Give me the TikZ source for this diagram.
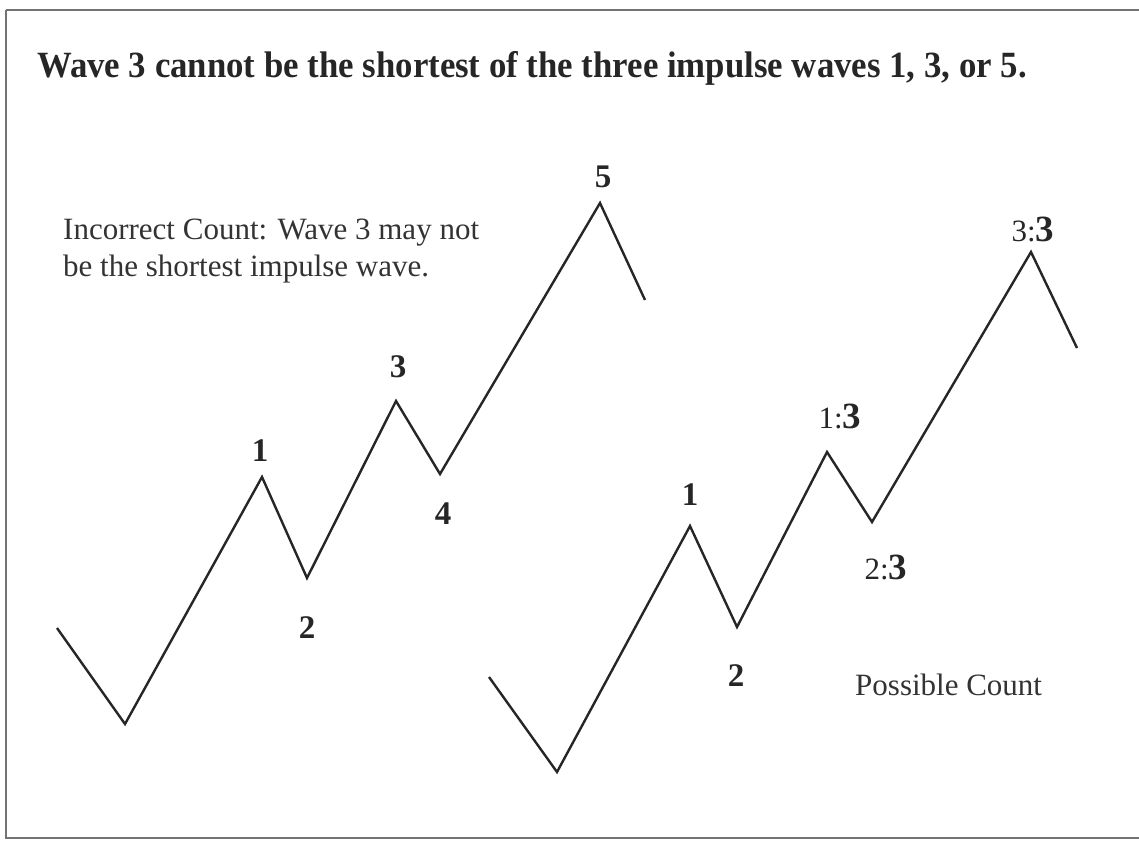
\documentclass[tikz,border=0pt]{standalone}
\usepackage{fontspec}
\setmainfont{Liberation Serif}
\newcommand{\smallpart}{\fontsize{31}{34}\selectfont\mdseries}
\newcommand{\bigpart}{\fontsize{37}{40}\selectfont\bfseries}
\begin{document}
\begin{tikzpicture}[x=1pt,y=-1pt,
  wave/.style={draw=black!85,line width=2.4pt,line join=miter},
  frame/.style={draw=black!55,line width=2pt},
  lbl/.style={font=\fontsize{33}{36}\selectfont\bfseries,text=black!85,inner sep=0pt},
  clbl/.style={text=black!85,inner sep=0pt,anchor=base},
  txt/.style={font=\fontsize{31}{37}\selectfont,text=black!80,inner sep=0pt,anchor=base west}]
\useasboundingbox (0,0) rectangle (1139,840);
\draw[frame] (6,10) -- (1139,10);
\draw[frame] (6,10) -- (6,838) -- (1139,838);
\node[font=\fontsize{37}{40}\selectfont\bfseries,text=black!85,anchor=base west,inner sep=0pt] (title) at (37,78) {\scalebox{0.94}[1]{Wave 3 cannot be the shortest of the three impulse waves 1, 3, or 5.}};
\node[txt] (inc1) at (63,239) {Incorrect Count: Wave 3 may not};
\node[txt] (inc2) at (63,276) {be the shortest impulse wave.};
% left wave
\coordinate (a0) at (57,628);
\coordinate (a1) at (125,724);
\coordinate (p1) at (262,477);
\coordinate (p2) at (307,578);
\coordinate (p3) at (396,401);
\coordinate (p4) at (440,474);
\coordinate (p5) at (600,203);
\coordinate (a9) at (645,300);
\draw[wave] (a0) -- (a1) -- (p1) -- (p2) -- (p3) -- (p4) -- (p5) -- (a9);
\node[lbl] (l1) at (260,451) {1};
\node[lbl] (l2) at (307,628) {2};
\node[lbl] (l3) at (398,367) {3};
\node[lbl] (l4) at (443,514) {4};
\node[lbl] (l5) at (603,177) {5};
% right wave
\coordinate (b0) at (489,677);
\coordinate (b1) at (557,772);
\coordinate (q1) at (690,526);
\coordinate (q2) at (737,627);
\coordinate (q3) at (827,452);
\coordinate (q4) at (872,522);
\coordinate (q5) at (1031,252);
\coordinate (b9) at (1077,348);
\draw[wave] (b0) -- (b1) -- (q1) -- (q2) -- (q3) -- (q4) -- (q5) -- (b9);
\node[lbl] (m1) at (690,495) {1};
\node[lbl] (m2) at (736,676) {2};
\node[clbl] (m3) at (840,428) {\smallpart 1:\bigpart 3};
\node[clbl] (m4) at (886,579) {\smallpart 2:\bigpart 3};
\node[clbl] (m5) at (1033,241) {\smallpart 3:\bigpart 3};
\node[txt] (pc) at (855,695) {Possible Count};
\end{tikzpicture}
\end{document}
